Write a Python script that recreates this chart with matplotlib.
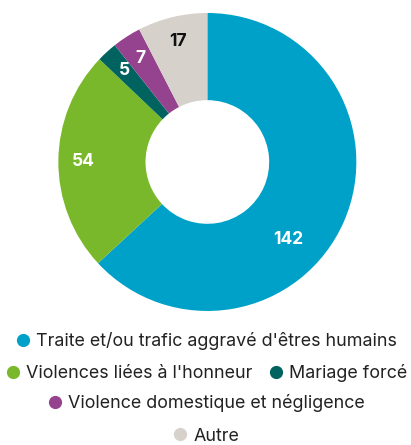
import numpy as np
import matplotlib
matplotlib.use('Agg')
import matplotlib.pyplot as plt
from matplotlib.lines import Line2D

# data
categories = ["Traite et/ou trafic aggravé d'êtres humains",
              "Violences liées à l'honneur",
              "Mariage forcé",
              "Violence domestique et négligence",
              "Autre"]
values = [142, 54, 5, 7, 17]
colors = ['#00A1C8', '#7AB82B', '#00635F', '#95428F', '#D6D1CB']
label_colors = ['white', 'white', 'white', 'white', '#111111']
legend_rows = [[0], [1, 2], [3], [4]]

plt.rcParams['font.family'] = ['Inter', 'DejaVu Sans']

fig = plt.figure(figsize=(4.11, 4.45), dpi=100)
ax = fig.add_axes([0.142, 0.301, 0.725, 0.670])

wedges, _ = ax.pie(values, colors=colors, startangle=90, counterclock=False,
                   radius=1, wedgeprops=dict(width=0.585, linewidth=0))
ax.set_xlim(-1, 1)
ax.set_ylim(-1, 1)
ax.set_aspect('equal')
ax.axis('off')

# value labels inside the ring
shift = {0: -20}
for i, (w, v) in enumerate(zip(wedges, values)):
    ang = np.deg2rad((w.theta1 + w.theta2) / 2 + shift.get(i, 0))
    r = 0.75 if i == 0 else 0.83
    ax.text(r * np.cos(ang), r * np.sin(ang), str(v), ha='center', va='center',
            fontsize=12.5, fontweight='bold', color=label_colors[i])

# legend, one centered row at a time
row_y = [0.234, 0.162, 0.094, 0.020]
for row, y in zip(legend_rows, row_y):
    handles = [Line2D([], [], marker='o', linestyle='', markersize=9.5,
                      markerfacecolor=colors[i], markeredgewidth=0)
               for i in row]
    fig.legend(handles, [categories[i] for i in row], loc='center',
               bbox_to_anchor=(0.5, y), ncol=len(row), frameon=False,
               fontsize=12.9, handletextpad=0.25, columnspacing=0.8,
               handlelength=1.0, borderpad=0, labelcolor='#222222')

fig.savefig('out.png', dpi=100)
